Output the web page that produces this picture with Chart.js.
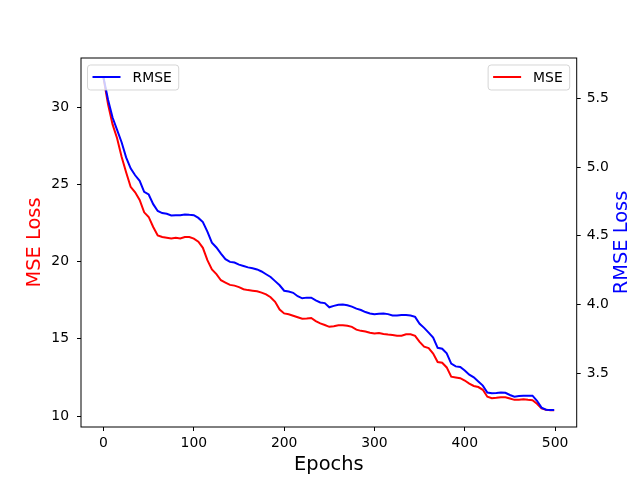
<!DOCTYPE html>
<html>
<head>
<meta charset="utf-8">
<script src="https://cdn.jsdelivr.net/npm/chart.js@4.4.1/dist/chart.umd.min.js"></script>
<style>
  html, body { margin: 0; padding: 0; background: #ffffff; }
  canvas { display: block; }
</style>
</head>
<body>
<canvas id="lossChart" width="640" height="480"></canvas>
<script>
'use strict';

// data, one sample every 5 epochs
const epochs = [
    0, 5, 10, 15, 20, 25, 30, 35, 40, 45,
    50, 55, 60, 65, 70, 75, 80, 85, 90, 95,
    100, 105, 110, 115, 120, 125, 130, 135, 140, 145,
    150, 155, 160, 165, 170, 175, 180, 185, 190, 195,
    200, 205, 210, 215, 220, 225, 230, 235, 240, 245,
    250, 255, 260, 265, 270, 275, 280, 285, 290, 295,
    300, 305, 310, 315, 320, 325, 330, 335, 340, 345,
    350, 355, 360, 365, 370, 375, 380, 385, 390, 395,
    400, 405, 410, 415, 420, 425, 430, 435, 440, 445,
    450, 455, 460, 465, 470, 475, 480, 485, 490, 495,
    499
];

const mseLoss = [
    31.9, 30.2, 28.9, 28.0, 26.8, 25.8, 24.85, 24.5, 24.0, 23.2,
    22.9, 22.25, 21.7, 21.6, 21.55, 21.5, 21.55, 21.5, 21.6, 21.6,
    21.5, 21.3, 20.9, 20.1, 19.5, 19.2, 18.8, 18.65, 18.5, 18.45,
    18.35, 18.22, 18.16, 18.12, 18.08, 18.0, 17.88, 17.7, 17.4, 16.9,
    16.65, 16.6, 16.5, 16.4, 16.3, 16.32, 16.35, 16.15, 16.0, 15.9,
    15.78, 15.82, 15.88, 15.88, 15.85, 15.78, 15.6, 15.52, 15.48, 15.4,
    15.35, 15.38, 15.32, 15.28, 15.25, 15.2, 15.2, 15.3, 15.3, 15.2,
    14.8, 14.5, 14.4, 14.05, 13.5, 13.45, 13.15, 12.55, 12.5, 12.45,
    12.3, 12.1, 11.95, 11.88, 11.7, 11.25, 11.15, 11.18, 11.22, 11.22,
    11.14, 11.05, 11.06, 11.08, 11.05, 11.03, 10.8, 10.5, 10.4, 10.38,
    10.38
];

const rmseLoss = [
    5.65, 5.49, 5.36, 5.27, 5.18, 5.07, 4.99, 4.94, 4.90, 4.82,
    4.80, 4.73, 4.68, 4.665, 4.66, 4.647, 4.65, 4.65, 4.655, 4.652,
    4.65, 4.63, 4.60, 4.53, 4.45, 4.415, 4.37, 4.33, 4.31, 4.305,
    4.29, 4.28, 4.27, 4.264, 4.255, 4.24, 4.22, 4.2, 4.17, 4.14,
    4.10, 4.094, 4.085, 4.06, 4.045, 4.05, 4.05, 4.03, 4.015, 4.01,
    3.98, 3.99, 3.998, 4.0, 3.995, 3.985, 3.97, 3.96, 3.945, 3.935,
    3.929, 3.932, 3.935, 3.93, 3.92, 3.92, 3.923, 3.924, 3.92, 3.91,
    3.86, 3.83, 3.795, 3.76, 3.685, 3.678, 3.645, 3.57, 3.55, 3.545,
    3.52, 3.49, 3.47, 3.44, 3.41, 3.36, 3.355, 3.356, 3.36, 3.358,
    3.342, 3.33, 3.335, 3.336, 3.337, 3.337, 3.30, 3.25, 3.235, 3.233,
    3.233
];

const epochTicks = [0, 100, 200, 300, 400, 500];
const mseTicks = [10, 15, 20, 25, 30];
const rmseTicks = [3.5, 4.0, 4.5, 5.0, 5.5];

const FONT = 'DejaVu Sans';
const TICK_FONT = { family: FONT, size: 13.9 };
const LABEL_FONT = { family: FONT, size: 19.4 };

function toPoints(values) {
    return values.map((v, i) => ({ x: epochs[i], y: v }));
}

function setTicks(list) {
    return function(scale) {
        scale.ticks = list.map(v => ({ value: v }));
    };
}

// draws a matplotlib-like legend box
function drawLegendBox(ctx, x, y, color, label) {
    ctx.save();
    ctx.font = '13.9px "' + FONT + '"';
    const tw = ctx.measureText(label).width;
    const w = 45 + tw + 7;
    const h = 25;
    ctx.beginPath();
    ctx.roundRect(x, y, w, h, 3);
    ctx.fillStyle = 'rgba(255,255,255,0.8)';
    ctx.fill();
    ctx.lineWidth = 1;
    ctx.strokeStyle = 'rgba(204,204,204,0.8)';
    ctx.stroke();

    const cy = y + h / 2 - 0.5;
    ctx.beginPath();
    ctx.moveTo(x + 5, cy);
    ctx.lineTo(x + 33, cy);
    ctx.lineWidth = 2;
    ctx.strokeStyle = color;
    ctx.stroke();

    ctx.fillStyle = '#000000';
    ctx.textBaseline = 'middle';
    ctx.textAlign = 'left';
    ctx.fillText(label, x + 45, cy + 1);
    ctx.restore();
    return w;
}

const framePlugin = {
    id: 'frame',
    afterDatasetsDraw(chart) {
        const { ctx, chartArea } = chart;
        const a = chartArea;
        ctx.save();
        ctx.strokeStyle = '#000000';
        ctx.lineWidth = 1;
        ctx.strokeRect(a.left, a.top, a.right - a.left, a.bottom - a.top);

        // legends: RMSE upper left, MSE upper right
        drawLegendBox(ctx, a.left + 6.5, a.top + 7, '#0000ff', chart.data.datasets[0].label);
        ctx.font = '13.9px "' + FONT + '"';
        const mw = 45 + ctx.measureText(chart.data.datasets[1].label).width + 7;
        drawLegendBox(ctx, a.right - 7 - mw, a.top + 7, '#ff0000', chart.data.datasets[1].label);

        // right axis title reads bottom to top like matplotlib
        ctx.translate(622, (a.top + a.bottom) / 2);
        ctx.rotate(-Math.PI / 2);
        ctx.font = '19.4px "' + FONT + '"';
        ctx.fillStyle = '#0000ff';
        ctx.textAlign = 'center';
        ctx.textBaseline = 'middle';
        ctx.fillText('RMSE Loss', 0, 0);
        ctx.restore();
    }
};

const ctx = document.getElementById('lossChart').getContext('2d');

const lossChart = new Chart(ctx, {
    type: 'line',
    data: {
        datasets: [
            {
                label: 'RMSE',
                data: toPoints(rmseLoss),
                yAxisID: 'yRmse',
                borderColor: '#0000ff',
                borderWidth: 2,
                pointRadius: 0,
                tension: 0,
                order: 0
            },
            {
                label: 'MSE',
                data: toPoints(mseLoss),
                yAxisID: 'yMse',
                borderColor: '#ff0000',
                borderWidth: 2,
                pointRadius: 0,
                tension: 0,
                order: 1
            }
        ]
    },
    options: {
        responsive: false,
        devicePixelRatio: 1,
        animation: false,
        layout: {
            padding: { top: 58, bottom: 0, left: 0, right: 0 }
        },
        plugins: {
            legend: { display: false },
            tooltip: { enabled: false }
        },
        scales: {
            x: {
                type: 'linear',
                min: -24.95,
                max: 523.95,
                afterFit: s => { s.height = 53; },
                afterBuildTicks: setTicks(epochTicks),
                grid: { drawOnChartArea: false, tickLength: 4, tickColor: '#000000', tickWidth: 1 },
                border: { display: false },
                ticks: { color: '#000000', font: TICK_FONT, padding: 4, maxRotation: 0 },
                title: {
                    display: true,
                    text: 'Epochs',
                    color: '#000000',
                    font: LABEL_FONT,
                    padding: { top: 0, bottom: 3.5 }
                }
            },
            yMse: {
                type: 'linear',
                position: 'left',
                min: 9.29,
                max: 33.2,
                afterFit: s => { s.width = 81; },
                afterBuildTicks: setTicks(mseTicks),
                grid: { drawOnChartArea: false, tickLength: 4, tickColor: '#000000', tickWidth: 1 },
                border: { display: false },
                ticks: { color: '#000000', font: TICK_FONT, padding: 8 },
                title: {
                    display: true,
                    text: 'MSE Loss',
                    color: '#ff0000',
                    font: LABEL_FONT,
                    padding: { top: 23.5, bottom: 0 }
                }
            },
            yRmse: {
                type: 'linear',
                position: 'right',
                min: 3.109,
                max: 5.793,
                afterFit: s => { s.width = 63.3; },
                afterBuildTicks: setTicks(rmseTicks),
                grid: { drawOnChartArea: false, tickLength: 4, tickColor: '#000000', tickWidth: 1 },
                border: { display: false },
                ticks: {
                    color: '#000000',
                    font: TICK_FONT,
                    padding: 6,
                    callback: v => v.toFixed(1)
                }
            }
        }
    },
    plugins: [framePlugin]
});
</script>
</body>
</html>
